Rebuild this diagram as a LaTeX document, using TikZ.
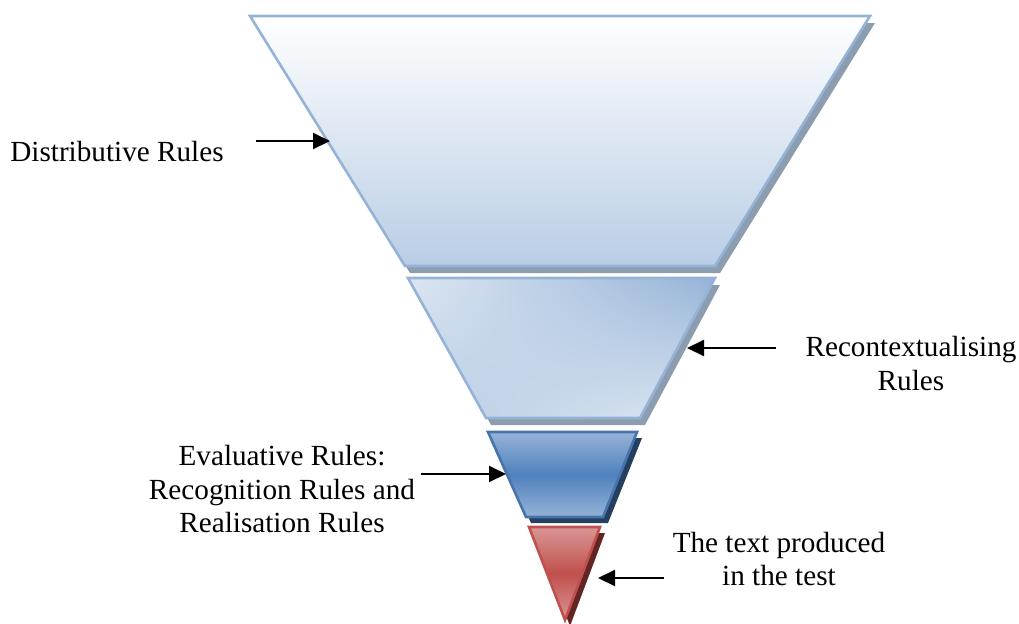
\documentclass[tikz,border=0pt]{standalone}
\usepackage{fontspec}
\setmainfont{Liberation Serif}
\usetikzlibrary{arrows.meta,shadings}
\definecolor{edgeblue}{HTML}{95B3D7}
\definecolor{paleblue}{HTML}{B9CDE5}
\definecolor{mistblue}{HTML}{DCE6F2}
\definecolor{greyshadow}{HTML}{8D9DB0}
\definecolor{midblue}{HTML}{4F81BD}
\definecolor{navyshadow}{HTML}{243F60}
\definecolor{lightred}{HTML}{D99694}
\definecolor{midred}{HTML}{C0504D}
\definecolor{darkredshadow}{HTML}{632523}
\begin{document}
\begin{tikzpicture}[x=0.5pt,y=-0.5pt,
    rim/.style={line width=1.3pt,line join=miter},
    pointer/.style={-{Triangle[length=8.5pt,width=8pt]},line width=1pt},
    ruletext/.style={font=\fontsize{14.6}{17}\selectfont,align=center,inner sep=0pt}]
\useasboundingbox (0,0) rectangle (1019,623);

\coordinate (d1) at (250,16); \coordinate (d2) at (870,16);
\coordinate (d3) at (715,266); \coordinate (d4) at (405,266);
\coordinate (r1) at (408,278); \coordinate (r2) at (715,278);
\coordinate (r3) at (640,418); \coordinate (r4) at (486,418);
\coordinate (e1) at (488,432); \coordinate (e2) at (637,432);
\coordinate (e3) at (603,517); \coordinate (e4) at (526,517);
\coordinate (t1) at (529,527); \coordinate (t2) at (600,527);
\coordinate (t3) at (565,620);

\fill[greyshadow] ([shift={(5,7)}]d1) -- ([shift={(5,7)}]d2) -- ([shift={(5,7)}]d3) -- ([shift={(5,7)}]d4) -- cycle;
\shade[top color=white,bottom color=paleblue] (d1) -- (d2) -- (d3) -- (d4) -- cycle;
\draw[rim,edgeblue] (d1) -- (d2) -- (d3) -- (d4) -- cycle;

\fill[greyshadow] ([shift={(5,7)}]r1) -- ([shift={(5,7)}]r2) -- ([shift={(5,7)}]r3) -- ([shift={(5,7)}]r4) -- cycle;
\shade[upper left=mistblue,upper right=edgeblue,lower left=paleblue,lower right=mistblue] (r1) -- (r2) -- (r3) -- (r4) -- cycle;
\draw[rim,edgeblue] (r1) -- (r2) -- (r3) -- (r4) -- cycle;

\fill[navyshadow] ([shift={(5,6)}]e1) -- ([shift={(5,6)}]e2) -- ([shift={(5,6)}]e3) -- ([shift={(5,6)}]e4) -- cycle;
\shade[top color=edgeblue,bottom color=edgeblue,middle color=midblue] (e1) -- (e2) -- (e3) -- (e4) -- cycle;
\draw[rim,midblue!90!black] (e1) -- (e2) -- (e3) -- (e4) -- cycle;

\fill[darkredshadow] ([shift={(5,6)}]t1) -- ([shift={(5,6)}]t2) -- ([shift={(5,6)}]t3) -- cycle;
\shade[top color=lightred,bottom color=lightred,middle color=midred] (t1) -- (t2) -- (t3) -- cycle;
\draw[rim,midred] (t1) -- (t2) -- (t3) -- cycle;

\node[ruletext] (distrib) at (117,152) {Distributive Rules};
\node[ruletext] (recontext) at (911,364) {Recontextualising\\Rules};
\node[ruletext] (evaluative) at (282,489) {Evaluative Rules:\\Recognition Rules and\\Realisation Rules};
\node[ruletext] (produced) at (779,559) {The text produced\\in the test};

\coordinate (distTail) at (256,141); \coordinate (distTip) at (330,141);
\coordinate (recTail) at (776,348); \coordinate (recTip) at (687,348);
\coordinate (evalTail) at (421,474); \coordinate (evalTip) at (506,474);
\coordinate (textTail) at (664,578); \coordinate (textTip) at (598,578);

\draw[pointer] (distTail) to (distTip);
\draw[pointer] (recTail) to (recTip);
\draw[pointer] (evalTail) to (evalTip);
\draw[pointer] (textTail) to (textTip);
\end{tikzpicture}
\end{document}
